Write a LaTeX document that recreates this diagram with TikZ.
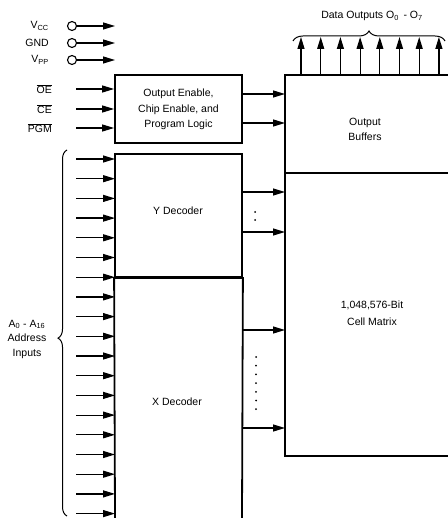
\documentclass[tikz,border=0pt]{standalone}
\usepackage{fontspec}
\setmainfont{Liberation Sans}
\usetikzlibrary{arrows.meta,decorations.pathreplacing}
\begin{document}
\begin{tikzpicture}[x=1pt,y=-1pt,
  every node/.style={font=\fontsize{10.5}{15}\selectfont, inner sep=0pt},
  box/.style={draw, line width=1.8pt},
  edge/.style={line width=1.8pt},
  arr/.style={line width=1.2pt, -{Triangle[length=12pt,width=7pt]}},
  pin/.style={circle, draw, line width=1.1pt, minimum size=9pt, inner sep=0pt},
  dot/.style={circle, fill, inner sep=0pt, minimum size=2pt},
  brc/.style={decorate, line width=1pt}]
\useasboundingbox (0,0) rectangle (447,518);
% boxes
\node[box, minimum width=127pt, minimum height=68pt] (logic) at (178.5,109) {};
\node[align=center, font=\fontsize{10.5}{15.5}\selectfont] (logictxt) at (178.5,109.5) {Output Enable,\\Chip Enable, and\\Program Logic};
\node[box, minimum width=127pt, minimum height=123pt] (ydec) at (178.5,215.5) {};
\node (ytxt) at (178,211) {Y Decoder};
\draw[edge] (115,518) -- (ydec.south west) -- (ydec.south east) -- (242,518);
\node (xtxt) at (177,402) {X Decoder};
\coordinate (ob) at (285,75);
\coordinate (cm) at (285,173);
\coordinate (cmb) at (285,456);
\draw[edge] (448,75) -- (ob) -- (cmb) -- (448,456);
\draw[edge] (cm) -- (448,173);
\node[align=center] (obtxt) at (365,129.5) {Output\\Buffers};
\node[align=center, font=\fontsize{10.5}{17}\selectfont] (cmtxt) at (372,313.5) {1,048,576-Bit\\Cell Matrix};
% power pins
\foreach \nm/\lab/\y in {vcc/V\textsubscript{CC}/26, gnd/GND/43, vpp/V\textsubscript{PP}/60}{
  \node[anchor=east] (\nm lab) at (49,\y) {\lab};
  \node[pin] (\nm) at (72,\y) {};
  \coordinate (\nm end) at (115,\y);
  \draw[arr] (\nm) -- (\nm end);
}
% control inputs
\foreach \nm/\lab/\y in {oe/OE/89, ce/CE/109, pgm/PGM/128}{
  \node[anchor=east] (\nm lab) at (52,\y) {$\overline{\hbox{\lab}}$};
  \coordinate (\nm s) at (76,\y);
  \draw[arr] (\nm s) -- (logic.west |- \nm s);
}
% logic to buffers
\foreach \i/\y in {1/94, 2/123}{
  \coordinate (lo\i) at (242,\y);
  \draw[arr] (lo\i) -- (ob |- lo\i);
}
% address inputs
\foreach \i in {0,...,18}{
  \pgfmathsetmacro{\yy}{159+19.7*\i}
  \coordinate (a\i s) at (76,\yy);
  \coordinate (a\i e) at (115,\yy);
  \draw[arr] (a\i s) -- (a\i e);
}
\coordinate (brb) at (67,516);
\coordinate (brt) at (67,150);
\draw[brc, decoration={brace, amplitude=9pt, aspect=0.486}] (brb) -- (brt);
\node[align=center, font=\fontsize{10.5}{14.5}\selectfont] (addr) at (27,339) {A\textsubscript{0} - A\textsubscript{16}\\Address\\Inputs};
% decoder outputs
\foreach \i/\y in {1/192, 2/232, 3/330, 4/428}{
  \coordinate (d\i) at (242,\y);
  \draw[arr] (d\i) -- (ob |- d\i);
}
\node[dot] (yd1) at (255,212) {};
\node[dot] (yd2) at (255,220) {};
\foreach \i in {0,...,6}{
  \node[dot] (xd\i) at (256,357+8.7*\i) {};
}
% data outputs
\foreach \i in {0,...,7}{
  \pgfmathsetmacro{\xx}{301+19.7*\i}
  \coordinate (o\i s) at (\xx,75);
  \coordinate (o\i e) at (\xx,37);
  \draw[arr] (o\i s) -- (o\i e);
}
\coordinate (dbl) at (293,41);
\coordinate (dbr) at (445,41);
\draw[brc, decoration={brace, amplitude=10pt}] (dbl) -- (dbr);
\node (dlab) at (372,16) {Data Outputs O\textsubscript{0}\, - O\textsubscript{7}};
\end{tikzpicture}
\end{document}
